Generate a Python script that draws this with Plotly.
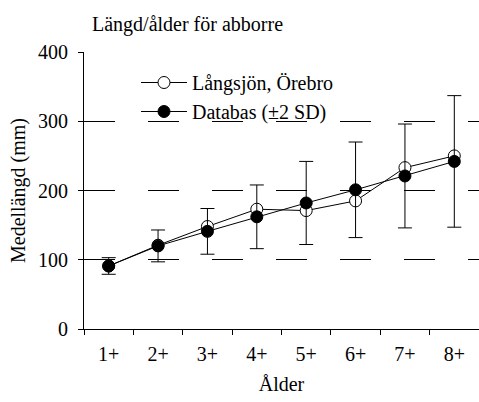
import plotly.graph_objects as go

ages = ["1+", "2+", "3+", "4+", "5+", "6+", "7+", "8+"]
langsjon = [91, 121, 148, 173, 171, 185, 233, 250]
databas = [91, 120, 141, 162, 182, 201, 221, 242]
databas_2sd = [12, 23, 33, 46, 60, 69, 75, 95]

FONT = "Liberation Serif"
FS = 20

fig = go.Figure()
fig.add_trace(go.Scatter(
    x=ages, y=langsjon, mode="lines+markers", name="Långsjön, Örebro",
    line=dict(color="black", width=1),
    marker=dict(symbol="circle", size=12, color="white", line=dict(color="black", width=1)),
))
fig.add_trace(go.Scatter(
    x=ages, y=databas, mode="lines+markers", name="Databas (±2 SD)",
    line=dict(color="black", width=1),
    marker=dict(symbol="circle", size=12, color="black", line=dict(color="black", width=1)),
    error_y=dict(type="data", array=databas_2sd, visible=True, color="black", thickness=1, width=7),
))

fig.update_layout(
    width=479, height=402,
    margin=dict(l=84, r=0, t=52, b=73),
    paper_bgcolor="white", plot_bgcolor="white",
    font=dict(family=FONT, size=FS, color="black"),
    title=dict(text="Längd/ålder för abborre", x=92/479, xanchor="left",
               y=1 - 24/402, yanchor="middle", font=dict(family=FONT, size=FS, color="black")),
    showlegend=True,
    legend=dict(x=(136-84)/395, y=(329-63)/277, xanchor="left", yanchor="top",
                bgcolor="rgba(0,0,0,0)", font=dict(family=FONT, size=FS, color="black"),
                tracegroupgap=0, itemwidth=46),
    xaxis=dict(
        type="category", showline=True, linecolor="black", linewidth=1,
        ticks="outside", ticklen=5, tickcolor="black", tickson="boundaries",
        showgrid=False, zeroline=False, range=[-0.5, 7.5],
        tickfont=dict(family=FONT, size=FS), ticklabelstandoff=7,
        title=dict(text="Ålder", font=dict(family=FONT, size=FS), standoff=12),
    ),
    yaxis=dict(
        range=[0, 400], tickvals=[0, 100, 200, 300, 400],
        showline=True, linecolor="black", linewidth=1,
        ticks="outside", ticklen=5, tickcolor="black",
        showgrid=True, gridcolor="black", gridwidth=1, griddash="31px,33px",
        zeroline=False,
        tickfont=dict(family=FONT, size=FS), ticklabelstandoff=6,
        title=dict(text="Medellängd (mm)", font=dict(family=FONT, size=FS), standoff=7),
    ),
)

fig.write_html("out.html", config={"displayModeBar": False},
               post_script="document.body.style.margin='0';")
